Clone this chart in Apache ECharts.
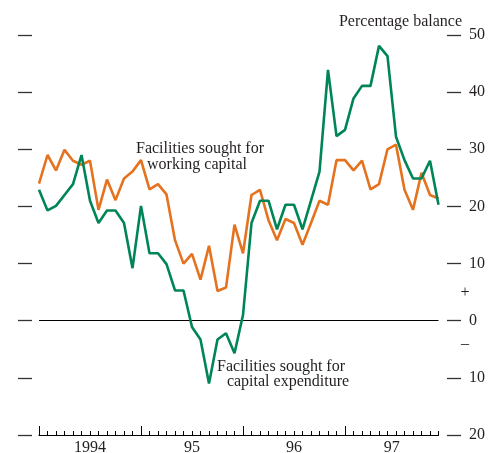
<!DOCTYPE html>
<html>
<head>
<meta charset="utf-8">
<script src="https://cdn.jsdelivr.net/npm/echarts@6/dist/echarts.min.js"></script>
<style>
html,body{margin:0;padding:0;background:#fff;}
#chart{width:488px;height:453px;}
</style>
</head>
<body>
<div id="chart"></div>
<script>
// Monthly observations, Jan 1994 .. Dec 1997 (index 0..47)
var months = [];
for (var yy = 1994; yy <= 1997; yy++) { for (var mm = 1; mm <= 12; mm++) { months.push(yy + '-' + (mm < 10 ? '0' + mm : mm)); } }

var yearLabels = ['1994', '95', '96', '97'];

var workingCapital = [
  24.0, 29.0, 26.3, 29.9, 28.0, 27.3, 28.0, 19.4, 24.7, 21.1, 24.9, 26.1,
  28.1, 23.0, 23.9, 22.1, 14.1, 10.0, 11.7, 7.2, 13.1, 5.2, 5.8, 16.8,
  11.8, 22.0, 22.9, 17.6, 14.1, 17.8, 17.1, 13.3, 17.1, 21.0, 20.3, 28.1,
  28.1, 26.3, 28.0, 23.0, 23.9, 30.0, 30.8, 22.9, 19.4, 25.9, 22.0, 21.4
];

var capitalExpenditure = [
  22.9, 19.3, 20.1, 22.0, 23.9, 29.0, 21.0, 17.1, 19.3, 19.3, 17.1, 9.2,
  20.1, 11.8, 11.8, 9.9, 5.3, 5.3, -1.1, -3.3, -11.0, -3.3, -2.2, -5.7,
  1.0, 17.1, 21.0, 21.0, 16.0, 20.3, 20.3, 16.0, 21.0, 26.1, 43.9, 32.3,
  33.4, 38.9, 41.1, 41.1, 48.1, 46.3, 32.2, 28.1, 24.9, 24.9, 28.0, 20.3
];

var yTicks = [-20, -10, 0, 10, 20, 30, 40, 50];

var FONT = "'Liberation Serif','Times New Roman',serif";
var TEXT = '#231f20';
var ORANGE = '#e5721f';
var GREEN = '#008556';

var lastIdx = months.length - 1;
var monthIdx = months.map(function (m, i) { return i; });
var yearStarts = yearLabels.map(function (y, i) { return i * 12; });
var yearCenters = yearLabels.map(function (y, i) { return (i * 12 + Math.min(i * 12 + 12, lastIdx)) / 2; });

var chart = echarts.init(document.getElementById('chart'), null, {renderer: 'canvas'});

chart.setOption({
  animation: false,
  backgroundColor: '#fff',
  grid: {left: 39, right: 49.5, top: 35, bottom: 18, containLabel: false, outerBoundsMode: 'none'},
  xAxis: [{
    type: 'value', min: 0, max: lastIdx, interval: 1, position: 'bottom',
    axisLine: {show: true, onZero: false, lineStyle: {color: '#000', width: 1.2}},
    axisTick: {show: true, inside: true, length: 4, customValues: monthIdx, lineStyle: {color: '#000', width: 1}},
    splitLine: {show: false},
    axisLabel: {
      show: true, margin: 5, customValues: yearCenters,
      fontFamily: FONT, fontSize: 16, color: TEXT,
      formatter: function (v) {
        var k = yearCenters.indexOf(v);
        return k >= 0 ? yearLabels[k] : '';
      }
    }
  }, {
    type: 'value', min: 0, max: lastIdx, position: 'bottom',
    axisLine: {show: false, onZero: false},
    axisTick: {show: true, inside: true, length: 9, customValues: yearStarts, lineStyle: {color: '#000', width: 1}},
    splitLine: {show: false},
    axisLabel: {show: false}
  }],
  yAxis: [{
    type: 'value', min: -20, max: 50, interval: 10, position: 'left', offset: 7,
    axisLine: {show: false, onZero: false},
    axisTick: {show: true, length: 14, customValues: yTicks, lineStyle: {color: '#333', width: 1.3}},
    splitLine: {show: false},
    axisLabel: {show: false}
  }, {
    type: 'value', min: -20, max: 50, interval: 10, position: 'right', offset: 8.5,
    axisLine: {show: false, onZero: false},
    axisTick: {show: true, length: 14, customValues: yTicks, lineStyle: {color: '#333', width: 1.3}},
    splitLine: {show: false},
    axisLabel: {
      show: true, margin: 22, align: 'left', customValues: yTicks,
      fontFamily: FONT, fontSize: 16, color: TEXT,
      formatter: function (v) { return String(Math.abs(v)); }
    }
  }],
  series: [{
    name: 'Facilities sought for working capital',
    type: 'line', xAxisIndex: 0, yAxisIndex: 0,
    data: workingCapital.map(function (v, i) { return [i, v]; }),
    showSymbol: false, symbol: 'none',
    lineStyle: {color: ORANGE, width: 2.6},
    z: 3
  }, {
    name: 'Facilities sought for capital expenditure',
    type: 'line', xAxisIndex: 0, yAxisIndex: 0,
    data: capitalExpenditure.map(function (v, i) { return [i, v]; }),
    showSymbol: false, symbol: 'none',
    lineStyle: {color: GREEN, width: 2.6},
    z: 4,
    markLine: {
      silent: true, symbol: ['none', 'none'], label: {show: false},
      lineStyle: {color: '#000', width: 1.2, type: 'solid'},
      data: [{yAxis: 0}],
      z: 2
    }
  }],
  graphic: [
    {type: 'text', x: 462, y: 22, style: {text: 'Percentage balance', font: '16px ' + FONT, fill: TEXT, textAlign: 'right', textVerticalAlign: 'middle'}},
    {type: 'text', x: 200, y: 149, style: {text: 'Facilities sought for', font: '16px ' + FONT, fill: TEXT, textAlign: 'center', textVerticalAlign: 'middle'}},
    {type: 'text', x: 197, y: 165, style: {text: 'working capital', font: '16px ' + FONT, fill: TEXT, textAlign: 'center', textVerticalAlign: 'middle'}},
    {type: 'text', x: 281, y: 367, style: {text: 'Facilities sought for', font: '16px ' + FONT, fill: TEXT, textAlign: 'center', textVerticalAlign: 'middle'}},
    {type: 'text', x: 288, y: 382, style: {text: 'capital expenditure', font: '16px ' + FONT, fill: TEXT, textAlign: 'center', textVerticalAlign: 'middle'}},
    {type: 'text', x: 465, y: 293, style: {text: '+', font: '16px ' + FONT, fill: TEXT, textAlign: 'center', textVerticalAlign: 'middle'}},
    {type: 'text', x: 465, y: 344, style: {text: '\u2013', font: '16px ' + FONT, fill: TEXT, textAlign: 'center', textVerticalAlign: 'middle'}}
  ]
});
</script>
</body>
</html>
